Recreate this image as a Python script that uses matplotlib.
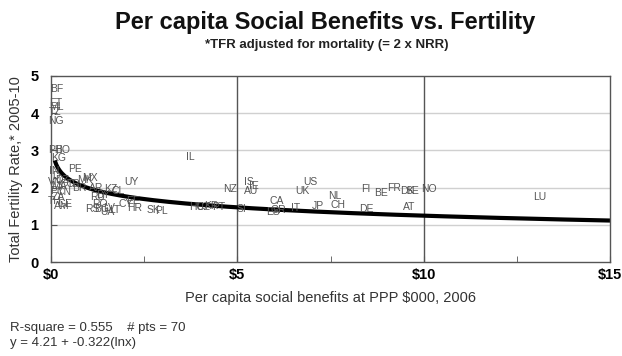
import numpy as np
import matplotlib
matplotlib.use("Agg")
import matplotlib.pyplot as plt

plt.rcParams['font.family'] = ['Liberation Sans', 'DejaVu Sans']

# Country labels and values (x = per capita social benefits, $000 PPP; y = adjusted TFR)
countries = ["BF", "ET", "ML", "TZ", "NG", "PH", "BO", "KG", "PE", "IN",
             "ID", "VN", "DZ", "MA", "CO", "MX", "TR", "BR", "CN", "PY",
             "ZA", "TH", "GE", "AM", "RU", "BY", "RS", "BG", "UA", "LT",
             "LV", "RO", "CL", "KZ", "UY", "EE", "HR", "SK", "PL", "CY",
             "IL", "HU", "CZ", "KR", "PT", "NZ", "IS", "AU", "IE", "SI",
             "CA", "ES", "GR", "IT", "UK", "US", "JP", "NL", "CH", "DE",
             "FI", "BE", "FR", "DK", "SE", "NO", "AT", "LU", "MK", "AR"]
benefits = [0.15, 0.12, 0.15, 0.10, 0.12, 0.12, 0.30, 0.20, 0.65, 0.08,
            0.12, 0.10, 0.30, 0.20, 0.45, 1.05, 0.60, 0.75, 0.35, 0.15,
            0.20, 0.10, 0.38, 0.30, 1.25, 1.40, 1.10, 1.35, 1.50, 1.70,
            1.55, 1.30, 1.80, 1.60, 2.15, 2.20, 2.25, 2.75, 2.95, 2.00,
            3.73, 3.90, 4.10, 4.30, 4.50, 4.80, 5.30, 5.37, 5.45, 5.10,
            6.05, 5.95, 6.10, 6.55, 6.75, 6.95, 7.15, 7.60, 7.70, 8.45,
            8.45, 8.85, 9.20, 9.55, 9.70, 10.15, 9.60, 13.10, 0.90, 1.20]
tfr = [4.65, 4.28, 4.15, 4.02, 3.80, 3.02, 3.02, 2.78, 2.50, 2.45,
       2.32, 2.15, 2.20, 2.05, 2.10, 2.25, 2.10, 1.98, 1.88, 1.90,
       1.75, 1.65, 1.55, 1.50, 1.75, 1.80, 1.42, 1.42, 1.35, 1.40,
       1.45, 1.55, 1.90, 1.95, 2.15, 1.65, 1.45, 1.40, 1.38, 1.55,
       2.82, 1.48, 1.48, 1.50, 1.48, 1.95, 2.15, 1.92, 2.05, 1.42,
       1.65, 1.33, 1.40, 1.45, 1.90, 2.15, 1.50, 1.78, 1.52, 1.43,
       1.97, 1.85, 2.00, 1.92, 1.92, 1.96, 1.48, 1.75, 2.20, 2.00]

# Fitted trend: y = 4.21 + -0.322 ln(x in $)
fit_a = 4.21
fit_b = -0.322
r_square = 0.555

fig = plt.figure(figsize=(6.22, 3.56), dpi=100)
ax = fig.add_axes([0.082, 0.264, 0.899, 0.523])

for c, xv, yv in zip(countries, benefits, tfr):
    ax.text(xv, yv, c, fontsize=7.5, color='#555555', ha='center', va='center')

xs = np.linspace(0.1, 15, 400)
ax.plot(xs, fit_a + fit_b * np.log(xs * 1000), color='black', lw=3, solid_capstyle='butt')

ax.set_xlim(0, 15)
ax.set_ylim(0, 5)
ax.set_xticks([0, 5, 10, 15])
ax.set_xticklabels(['$0', '$5', '$10', '$15'], fontweight='bold', fontsize=10.5)
ax.set_xticks([2.5, 7.5, 12.5], minor=True)
ax.set_yticks([0, 1, 2, 3, 4, 5])
ax.set_yticklabels(['0', '1', '2', '3', '4', '5'], fontweight='bold', fontsize=10.5)
ax.tick_params(axis='x', which='both', direction='in', length=4, color='#555555', pad=4)
ax.tick_params(axis='y', which='both', direction='in', length=4, color='#555555', pad=9)

for yv in [1, 2, 3, 4]:
    ax.axhline(yv, color='#d0d0d0', lw=1, zorder=0)
for xv in [5, 10]:
    ax.axvline(xv, color='#555555', lw=1, zorder=0)
for s in ax.spines.values():
    s.set_color('#555555')
    s.set_linewidth(1)

ax.set_xlabel('Per capita social benefits at PPP $000, 2006', fontsize=10.5, color='#333333', labelpad=7)
ax.set_ylabel('Total Fertility Rate,* 2005-10', fontsize=10.5, color='#333333', labelpad=5)

fig.text(0.523, 0.918, 'Per capita Social Benefits vs. Fertility', ha='center', va='baseline',
         fontsize=17, fontweight='bold', color='#111111')
fig.text(0.525, 0.866, '*TFR adjusted for mortality (= 2 x NRR)', ha='center', va='baseline',
         fontsize=9.5, fontweight='bold', color='#222222')

fig.text(0.016, 0.078, f'R-square = {r_square}    # pts = {len(countries)}', ha='left', va='center',
         fontsize=9.5, color='#333333')
fig.text(0.016, 0.036, f'y = {fit_a} + {fit_b}(lnx)', ha='left', va='center',
         fontsize=9.5, color='#333333')

fig.savefig('out.png', dpi=100)
